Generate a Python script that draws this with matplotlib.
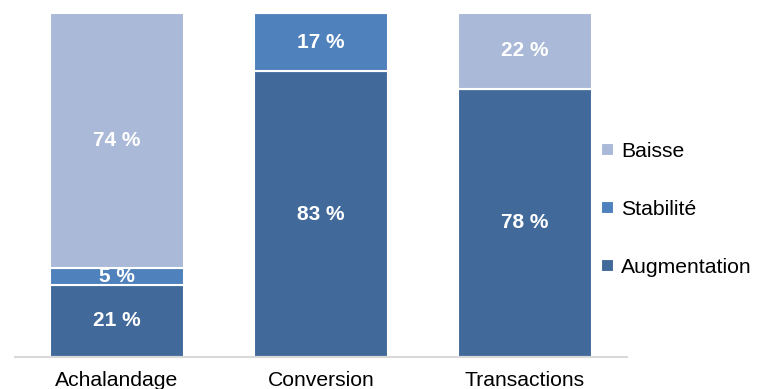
import numpy as np
import matplotlib.pyplot as plt

plt.rcParams['font.family'] = ['Liberation Sans', 'DejaVu Sans']

categories = ['Achalandage', 'Conversion', 'Transactions']
augmentation = [21, 83, 78]
stabilite = [5, 17, 0]
baisse = [74, 0, 22]

series = [('Augmentation', augmentation, '#416a9b'),
          ('Stabilité', stabilite, '#4f81bd'),
          ('Baisse', baisse, '#aab9d7')]

fig = plt.figure(figsize=(7.65, 3.89), dpi=100)
ax = fig.add_axes([15 / 765, 32 / 389, 612 / 765, 344 / 389])

x = np.arange(len(categories))
bottom = np.zeros(len(categories))
handles = []
for name, vals, col in series:
    vals = np.array(vals, dtype=float)
    bars = ax.bar(x, vals, width=0.66, bottom=bottom, color=col,
                  edgecolor='white', linewidth=1.5, label=name)
    handles.append(bars)
    for xi, b, v in zip(x, bottom, vals):
        if v > 0:
            ax.text(xi, b + v / 2, f'{int(v)} %', ha='center', va='center',
                    color='white', fontsize=15, fontweight='bold')
    bottom += vals

ax.set_xlim(-0.5, 2.5)
ax.set_ylim(0, 100)
ax.set_xticks(x)
ax.set_xticklabels(categories, fontsize=15.2)
ax.tick_params(axis='x', length=0, pad=10)
ax.set_yticks([])
for s in ['top', 'right', 'left']:
    ax.spines[s].set_visible(False)
ax.spines['bottom'].set_color('#d9d9d9')
ax.spines['bottom'].set_linewidth(1.5)

fig.legend(handles[::-1], [s[0] for s in series][::-1], loc='center left',
           bbox_to_anchor=(601 / 765, 0.462), frameon=False, fontsize=15.2,
           handlelength=0.6, handleheight=0.6, handletextpad=0.35,
           labelspacing=1.85, borderpad=0, borderaxespad=0)

fig.savefig('out.png', dpi=100)
